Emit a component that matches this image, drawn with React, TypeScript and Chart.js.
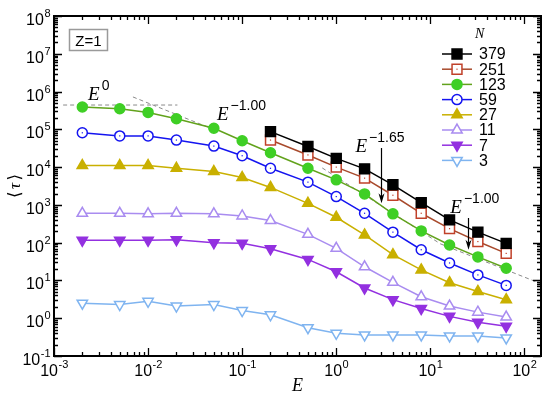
import React, { useEffect, useRef } from 'react';
import { Chart, registerables } from 'chart.js';
Chart.register(...registerables);

// ---------- data ----------
const energies = [0.002, 0.005, 0.01, 0.02, 0.05, 0.1, 0.2, 0.5, 1, 2, 4, 8, 16, 32, 64];
const energiesLarge = [0.2, 0.5, 1, 2, 4, 8, 16, 32, 64];

const tau379 = [8.7e4, 3.5e4, 1.7e4, 9e3, 3.4e3, 1.15e3, 400, 190, 96];
const tau251 = [5.2e4, 2.1e4, 1.0e4, 5.1e3, 1.8e3, 600, 235, 107, 52];
const tau123 = [3.9e5, 3.5e5, 2.8e5, 1.9e5, 1.07e5, 5e4, 2.4e4, 9.3e3, 4.6e3, 1.95e3, 580, 205, 87, 42, 21];
const tau59 = [8.1e4, 6.7e4, 6.7e4, 5.2e4, 3.6e4, 2.0e4, 9.3e3, 4.0e3, 1.66e3, 600, 190, 65, 29, 14, 7.4];
const tau27 = [1.1e4, 1.1e4, 1.1e4, 9.3e3, 7.6e3, 5.3e3, 2.9e3, 1.1e3, 470, 160, 48, 19, 8.7, 5.1, 3.1];
const tau11 = [600, 600, 580, 600, 580, 510, 385, 166, 71, 23, 8.9, 3.7, 2.1, 1.45, 1.07];
const tau7 = [115, 115, 115, 120, 100, 96, 69, 36, 17, 6.3, 3.1, 1.8, 1.12, 0.78, 0.61];
const tau3 = [2.5, 2.3, 2.8, 2.1, 2.3, 1.6, 1.23, 0.56, 0.4, 0.36, 0.36, 0.36, 0.34, 0.34, 0.3];

const seriesLabels = ['379', '251', '123', '59', '27', '11', '7', '3'];

// guide lines (power laws)
const guideE0X = [0.00125, 0.0205];
const guideE0Y = [4.4e5, 4.4e5];
const guideA_X = [0.0069, 0.052];
const guideA_Y = [7.2e5, 9.5e4];
const guideB_X = [0.71, 12.8];
const guideB_Y = [9.5e3, 93];
const guideC_X = [12.8, 150];
const guideC_Y = [93, 8.2];

// arrows
const arrowE = [3, 25];
const arrowTop = [3.2e4, 450];
const arrowBottom = [1.1e3, 65];

// exponent labels: [E position, tau position, exponent text]
const expLabelE = [0.0023, 0.054, 1.6, 16.3];
const expLabelTau = [6e5, 1.8e5, 2.5e4, 620];
const expLabelText = ['0', '\u22121.00', '\u22121.65', '\u22121.00'];

const xDecades = [-3, -2, -1, 0, 1, 2];
const yDecades = [-1, 0, 1, 2, 3, 4, 5, 6, 7, 8];

// ---------- styles ----------
type Sty = { line: string; stroke: string; fill: string; shape: string; rot: number; r: number; dot?: boolean };
const styles: Sty[] = [
  { line: '#000000', stroke: '#000000', fill: '#000000', shape: 'rect', rot: 0, r: 7 },
  { line: '#a84a2c', stroke: '#c0412a', fill: '#ffffff', shape: 'rect', rot: 0, r: 7, dot: true },
  { line: '#62a21c', stroke: '#3fcf25', fill: '#3fcf25', shape: 'circle', rot: 0, r: 5 },
  { line: '#1414f0', stroke: '#1414f0', fill: '#ffffff', shape: 'circle', rot: 0, r: 5, dot: true },
  { line: '#c9b000', stroke: '#c9b000', fill: '#c9b000', shape: 'triangle', rot: 0, r: 6 },
  { line: '#a98cf0', stroke: '#a98cf0', fill: '#ffffff', shape: 'triangle', rot: 0, r: 6 },
  { line: '#9330e0', stroke: '#9330e0', fill: '#9330e0', shape: 'triangle', rot: 180, r: 6 },
  { line: '#7fb4f0', stroke: '#7fb4f0', fill: '#ffffff', shape: 'triangle', rot: 180, r: 6 },
];

const SANS = '"Liberation Sans", Arial, Helvetica, sans-serif';
const SERIF = '"Liberation Serif", "Times New Roman", serif';

function drawMarker(ctx: CanvasRenderingContext2D, s: Sty, x: number, y: number) {
  ctx.save();
  ctx.beginPath();
  if (s.shape === 'rect') {
    const h = Math.SQRT1_2 * s.r;
    ctx.rect(x - h, y - h, 2 * h, 2 * h);
  } else if (s.shape === 'circle') {
    ctx.arc(x, y, s.r, 0, Math.PI * 2);
  } else {
    let rad = (s.rot * Math.PI) / 180;
    ctx.moveTo(x + Math.sin(rad) * s.r, y - Math.cos(rad) * s.r);
    rad += (2 * Math.PI) / 3;
    ctx.lineTo(x + Math.sin(rad) * s.r, y - Math.cos(rad) * s.r);
    rad += (2 * Math.PI) / 3;
    ctx.lineTo(x + Math.sin(rad) * s.r, y - Math.cos(rad) * s.r);
    ctx.closePath();
  }
  ctx.fillStyle = s.fill;
  ctx.fill();
  ctx.lineWidth = 1.5;
  ctx.strokeStyle = s.stroke;
  ctx.stroke();
  if (s.dot) {
    ctx.fillStyle = s.stroke;
    ctx.fillRect(x - 0.6, y - 0.6, 1.2, 1.2);
  }
  ctx.restore();
}

function supWidth(ctx: CanvasRenderingContext2D, base: string, sup: string, bf: string, sf: string) {
  ctx.font = bf;
  const w1 = ctx.measureText(base).width;
  ctx.font = sf;
  const w2 = ctx.measureText(sup).width;
  return [w1, w2];
}

const decorPlugin = {
  id: 'decor',
  afterDatasetsDraw(chart: any) {
    const ctx: CanvasRenderingContext2D = chart.ctx;
    chart.data.datasets.forEach((ds: any, i: number) => {
      if (i >= styles.length || !styles[i].dot) return;
      const meta = chart.getDatasetMeta(i);
      ctx.save();
      ctx.fillStyle = styles[i].stroke;
      meta.data.forEach((p: any) => ctx.fillRect(p.x - 0.6, p.y - 0.6, 1.2, 1.2));
      ctx.restore();
    });
  },
  afterDraw(chart: any) {
    const ctx: CanvasRenderingContext2D = chart.ctx;
    const a = chart.chartArea;
    const xs = chart.scales.x;
    const ys = chart.scales.y;
    ctx.save();

    // ticks
    ctx.strokeStyle = '#000';
    ctx.lineWidth = 1.3;
    ctx.beginPath();
    for (const e of xDecades) {
      for (let k = 1; k <= 9; k++) {
        const v = k * Math.pow(10, e);
        if (v < xs.min * 0.999 || v > xs.max) continue;
        const px = Math.round(xs.getPixelForValue(v)) + 0.5;
        const len = k === 1 ? 8 : 4;
        ctx.moveTo(px, a.bottom); ctx.lineTo(px, a.bottom - len);
        ctx.moveTo(px, a.top); ctx.lineTo(px, a.top + len);
      }
    }
    for (const e of yDecades) {
      for (let k = 1; k <= 9; k++) {
        const v = k * Math.pow(10, e);
        if (v < ys.min * 0.999 || v > ys.max * 1.001) continue;
        const py = Math.round(ys.getPixelForValue(v)) + 0.5;
        const len = k === 1 ? 8 : 4;
        ctx.moveTo(a.left, py); ctx.lineTo(a.left + len, py);
        ctx.moveTo(a.right, py); ctx.lineTo(a.right - len, py);
      }
    }
    ctx.stroke();

    // frame
    ctx.lineWidth = 2;
    ctx.strokeRect(a.left, a.top, a.right - a.left, a.bottom - a.top);

    // tick labels
    const bf = '16px ' + SANS;
    const sf = '11px ' + SANS;
    ctx.fillStyle = '#000';
    ctx.textBaseline = 'alphabetic';
    ctx.textAlign = 'left';
    for (const e of xDecades) {
      const px = xs.getPixelForValue(Math.pow(10, e));
      const sup = e < 0 ? '-' + Math.abs(e) : String(e);
      const [w1, w2] = supWidth(ctx, '10', sup, bf, sf);
      const x0 = px - (w1 + w2) / 2;
      ctx.font = bf; ctx.fillText('10', x0, a.bottom + 20);
      ctx.font = sf; ctx.fillText(sup, x0 + w1 + 0.5, a.bottom + 12);
    }
    for (const e of yDecades) {
      const py = ys.getPixelForValue(Math.pow(10, e));
      const sup = e < 0 ? '-' + Math.abs(e) : String(e);
      const [w1, w2] = supWidth(ctx, '10', sup, bf, sf);
      const x0 = a.left - 4 - (w1 + w2);
      ctx.font = bf; ctx.fillText('10', x0, py + 9);
      ctx.font = sf; ctx.fillText(sup, x0 + w1 + 0.5, py + 1);
    }

    // axis titles
    ctx.font = 'italic 18px ' + SERIF;
    ctx.textAlign = 'center';
    ctx.fillText('E', (a.left + a.right) / 2, a.bottom + 35);
    ctx.save();
    ctx.translate(20, (a.top + a.bottom) / 2);
    ctx.rotate(-Math.PI / 2);
    ctx.font = '17px "DejaVu Serif", ' + SERIF;
    ctx.textAlign = 'center';
    ctx.fillText('\u27E8  \u27E9', 0, 0);
    ctx.font = 'italic 17px ' + SERIF;
    ctx.fillText('\u03C4', 0, 0);
    ctx.restore();

    // Z=1 box
    ctx.strokeStyle = '#9a9a9a';
    ctx.lineWidth = 1.5;
    ctx.strokeRect(69.5, 29.5, 38, 21);
    ctx.font = '15px ' + SANS;
    ctx.textAlign = 'center';
    ctx.fillStyle = '#000';
    ctx.fillText('Z=1', 88.5, 46);

    // exponent labels
    ctx.textAlign = 'left';
    for (let i = 0; i < expLabelE.length; i++) {
      const px = xs.getPixelForValue(expLabelE[i]);
      const py = ys.getPixelForValue(expLabelTau[i]);
      ctx.font = 'italic 19px ' + SERIF;
      const wE = ctx.measureText('E').width;
      ctx.fillText('E', px, py);
      ctx.font = '14px ' + SANS;
      ctx.fillText(expLabelText[i], px + wE + 2, py - 10);
    }

    // arrows
    ctx.strokeStyle = '#000';
    ctx.fillStyle = '#000';
    ctx.lineWidth = 1.2;
    for (let i = 0; i < arrowE.length; i++) {
      const px = Math.round(xs.getPixelForValue(arrowE[i])) + 0.5;
      const t = ys.getPixelForValue(arrowTop[i]);
      const b = ys.getPixelForValue(arrowBottom[i]);
      ctx.beginPath();
      ctx.moveTo(px, t); ctx.lineTo(px, b - 6);
      ctx.stroke();
      ctx.beginPath();
      ctx.moveTo(px, b);
      ctx.lineTo(px - 3, b - 10);
      ctx.lineTo(px, b - 7);
      ctx.lineTo(px + 3, b - 10);
      ctx.closePath();
      ctx.fill();
    }

    // legend
    ctx.font = 'italic 14px ' + SERIF;
    ctx.textAlign = 'left';
    ctx.fillStyle = '#000';
    ctx.fillText('N', 475, 38);
    ctx.font = '16px ' + SANS;
    ctx.textBaseline = 'middle';
    for (let i = 0; i < seriesLabels.length; i++) {
      const y = 54 + i * 15.2;
      const s = styles[i];
      ctx.strokeStyle = s.line;
      ctx.lineWidth = 1.5;
      ctx.beginPath();
      ctx.moveTo(442, y); ctx.lineTo(472, y);
      ctx.stroke();
      drawMarker(ctx, s, 457, y);
      ctx.fillStyle = '#000';
      ctx.fillText(seriesLabels[i], 479, y + 1);
    }
    ctx.restore();
  },
};

function pts(xv: number[], yv: number[]) {
  return xv.map((x, i) => ({ x, y: yv[i] }));
}

export default function App() {
  const ref = useRef<HTMLCanvasElement | null>(null);
  useEffect(() => {
    if (!ref.current) return;
    const seriesData = [
      pts(energiesLarge, tau379),
      pts(energiesLarge, tau251),
      pts(energies, tau123),
      pts(energies, tau59),
      pts(energies, tau27),
      pts(energies, tau11),
      pts(energies, tau7),
      pts(energies, tau3),
    ];
    const datasets: any[] = seriesData.map((d, i) => ({
      label: seriesLabels[i],
      data: d,
      borderColor: styles[i].line,
      borderWidth: 1.5,
      pointStyle: styles[i].shape,
      pointRotation: styles[i].rot,
      pointRadius: styles[i].r,
      pointBorderWidth: 1.5,
      pointBorderColor: styles[i].stroke,
      pointBackgroundColor: styles[i].fill,
      tension: 0,
    }));
    const guides = [
      pts(guideE0X, guideE0Y),
      pts(guideA_X, guideA_Y),
      pts(guideB_X, guideB_Y),
      pts(guideC_X, guideC_Y),
    ];
    guides.forEach((g, i) =>
      datasets.push({
        label: 'guide' + i,
        data: g,
        borderColor: '#8a8a8a',
        borderWidth: 1,
        borderDash: [4, 3],
        pointRadius: 0,
      })
    );
    const chart = new Chart(ref.current, {
      type: 'line',
      data: { datasets },
      options: {
        animation: false,
        responsive: false,
        maintainAspectRatio: false,
        devicePixelRatio: 1,
        layout: { padding: { left: 54, right: 9, top: 16, bottom: 43 } },
        plugins: { legend: { display: false }, tooltip: { enabled: false } },
        scales: {
          x: { type: 'logarithmic', min: 1e-3, max: 150, display: false },
          y: { type: 'logarithmic', min: 0.1, max: 1e8, display: false },
        },
      },
      plugins: [decorPlugin],
    } as any);
    return () => chart.destroy();
  }, []);
  return (
    <div style={{ position: 'absolute', left: 0, top: 0, width: 550, height: 399, background: '#fff' }}>
      <canvas ref={ref} width={550} height={399} style={{ width: 550, height: 399, display: 'block' }} />
    </div>
  );
}
